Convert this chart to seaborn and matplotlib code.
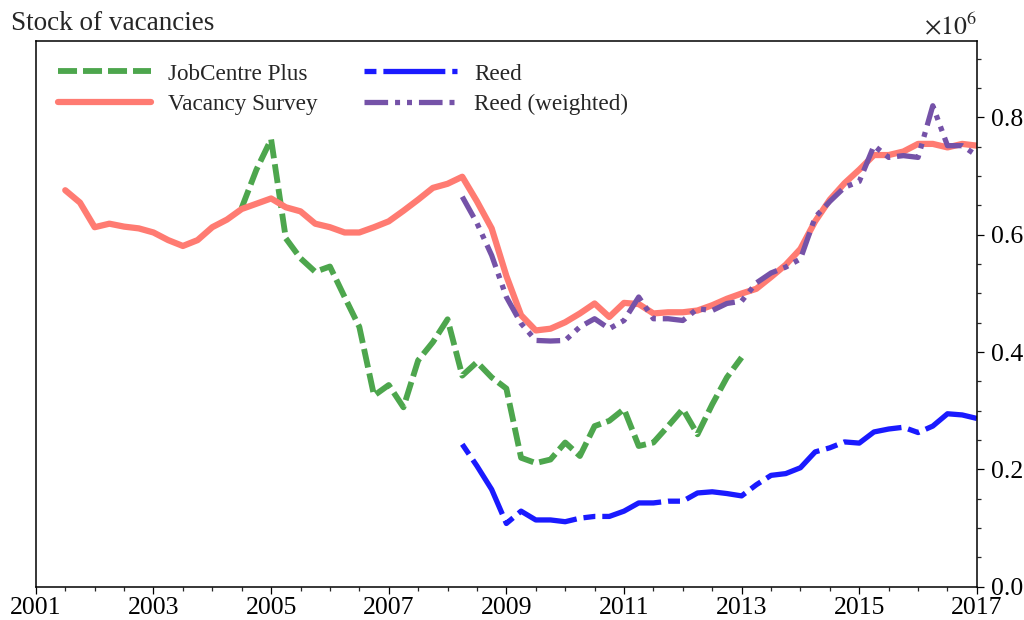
import numpy as np
import pandas as pd
import matplotlib
matplotlib.use("Agg")
import matplotlib.pyplot as plt
from matplotlib.ticker import MultipleLocator, FixedLocator
import seaborn as sns

# quarterly series, values in millions
vs_start = 2001.5
vacancy_survey = [0.676, 0.655, 0.613, 0.619, 0.614, 0.611, 0.604, 0.591, 0.581, 0.591,
                  0.613, 0.626, 0.644, 0.653, 0.662, 0.647, 0.640, 0.619, 0.613, 0.604,
                  0.604, 0.613, 0.623, 0.641, 0.660, 0.680, 0.687, 0.699, 0.657, 0.611,
                  0.530, 0.463, 0.437, 0.440, 0.451, 0.466, 0.483, 0.460, 0.484, 0.482,
                  0.466, 0.468, 0.468, 0.471, 0.480, 0.491, 0.500, 0.508, 0.528, 0.549,
                  0.576, 0.623, 0.660, 0.688, 0.711, 0.736, 0.736, 0.742, 0.755, 0.755,
                  0.749, 0.755, 0.752]

jcp_start = 2004.5
jobcentre = [0.646, 0.711, 0.763, 0.594, 0.560, 0.537, 0.546, 0.494, 0.443, 0.326,
             0.344, 0.306, 0.386, 0.417, 0.456, 0.360, 0.383, 0.357, 0.338, 0.220,
             0.211, 0.217, 0.246, 0.223, 0.274, 0.283, 0.303, 0.240, 0.246, 0.274,
             0.303, 0.260, 0.311, 0.357, 0.391]

reed_start = 2008.25
reed = [0.243, 0.206, 0.166, 0.108, 0.129, 0.114, 0.114, 0.111, 0.117, 0.120,
        0.120, 0.129, 0.143, 0.143, 0.146, 0.146, 0.160, 0.162, 0.159, 0.155,
        0.174, 0.190, 0.193, 0.203, 0.230, 0.237, 0.247, 0.245, 0.264, 0.269,
        0.272, 0.263, 0.274, 0.295, 0.293, 0.287]

reed_weighted = [0.665, 0.620, 0.565, 0.494, 0.449, 0.420, 0.419, 0.420, 0.443, 0.457,
                 0.440, 0.454, 0.494, 0.457, 0.457, 0.454, 0.474, 0.471, 0.483, 0.487,
                 0.518, 0.535, 0.545, 0.559, 0.630, 0.657, 0.681, 0.691, 0.752, 0.732,
                 0.735, 0.732, 0.820, 0.752, 0.752, 0.735]

year_ticks = [2001, 2003, 2005, 2007, 2009, 2011, 2013, 2015, 2017]


def quarters(start, values):
    return start + 0.25 * np.arange(len(values))


sns.set_style("white")
plt.rcParams['font.family'] = ['Liberation Serif', 'DejaVu Serif']
plt.rcParams['mathtext.fontset'] = 'stix'
plt.rcParams['lines.scale_dashes'] = False

fig = plt.figure(figsize=(10.24, 6.2), dpi=100)
ax = fig.add_axes([0.035, 0.0535, 0.919, 0.880])

series = [
    ("JobCentre Plus", jcp_start, jobcentre, "#4da64d", 4.2, (0, (13.7, 4.3))),
    ("Vacancy Survey", vs_start, vacancy_survey, "#ff7b72", 4.5, "-"),
    ("Reed", reed_start, reed, "#1a1aff", 3.8, (0, (8.6, 5, 44.6, 5))),
    ("Reed (weighted)", reed_start, reed_weighted, "#7552a8", 3.8, (0, (17, 5, 3.6, 5, 3.6, 5))),
]

for name, start, vals, col, lw, ls in series:
    df = pd.DataFrame({"year": quarters(start, vals), "value": vals})
    sns.lineplot(data=df, x="year", y="value", ax=ax, color=col, lw=lw,
                 linestyle=ls, label=name)

ax.set_xlim(2001, 2017)
ax.set_ylim(0, 0.93)
ax.xaxis.set_major_locator(FixedLocator(year_ticks))
ax.xaxis.set_minor_locator(MultipleLocator(0.5))
ax.yaxis.set_major_locator(MultipleLocator(0.2))
ax.yaxis.set_minor_locator(MultipleLocator(0.05))
ax.yaxis.set_major_formatter(plt.FormatStrFormatter("%.1f"))
ax.yaxis.tick_right()
ax.set_xlabel("")
ax.set_ylabel("")

for sp in ax.spines.values():
    sp.set_visible(True)
    sp.set_color("black")
    sp.set_linewidth(1.1)

ax.tick_params(axis="both", which="major", direction="out", length=5, width=0.9,
               labelsize=18.5, colors="black", pad=5)
ax.tick_params(axis="both", which="minor", direction="out", length=3, width=0.9)
ax.tick_params(axis="x", bottom=True, top=False, which="both", pad=2.5)
ax.tick_params(axis="y", right=True, left=False, which="both")

ax.legend(ncol=2, loc="upper left", frameon=False, fontsize=16.7,
          handlelength=4.0, columnspacing=2.0, handletextpad=0.75,
          borderaxespad=0.55, labelspacing=0.42)

fig.text(0.0105, 0.951, "Stock of vacancies", fontsize=19.5, ha="left", va="baseline")
fig.text(0.954, 0.944, r"$\times10^{6}$", fontsize=18.5, ha="right", va="baseline")

fig.savefig("out.png", dpi=100)
